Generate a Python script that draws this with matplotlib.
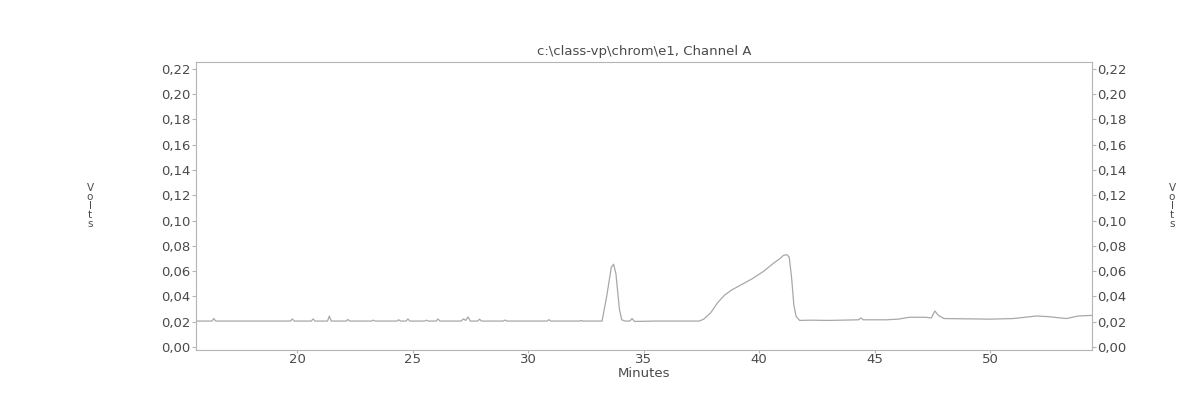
import matplotlib
matplotlib.use("Agg")
import matplotlib.pyplot as plt
from matplotlib.ticker import FuncFormatter, MultipleLocator

# chromatogram trace, Channel A (minutes, volts)
minutes = [15.63, 16.32, 16.4, 16.48, 19.72, 19.8, 19.88, 20.62, 20.7, 20.78,
           21.32, 21.4, 21.48, 22.12, 22.2, 22.28, 23.22, 23.3, 23.38,
           24.32, 24.4, 24.48, 24.72, 24.8, 24.88, 25.52, 25.6, 25.68,
           26.02, 26.1, 26.18, 27.1, 27.2, 27.3, 27.4, 27.5, 27.82, 27.9, 27.98,
           28.92, 29.0, 29.08, 30.82, 30.9, 30.98, 32.22, 32.3, 32.38,
           33.2, 33.4, 33.6, 33.7, 33.8, 33.95, 34.05, 34.2, 34.4, 34.5, 34.6,
           35.5, 37.4, 37.6, 37.9, 38.2, 38.5, 38.8, 39.2, 39.7, 40.2, 40.6,
           40.9, 41.05, 41.2, 41.3, 41.4, 41.5, 41.6, 41.75, 42.2, 43.0,
           44.3, 44.4, 44.5, 45.5, 46.0, 46.5, 47.2, 47.45, 47.6, 47.75, 48.0,
           50.0, 51.0, 52.0, 52.5, 53.3, 53.8, 54.4]
volts = [0.0205, 0.0205, 0.0225, 0.0205, 0.0205, 0.0222, 0.0205, 0.0205, 0.0222, 0.0205,
         0.0205, 0.0245, 0.0205, 0.0205, 0.0217, 0.0205, 0.0205, 0.0212, 0.0205,
         0.0205, 0.0215, 0.0205, 0.0205, 0.0222, 0.0205, 0.0205, 0.0212, 0.0205,
         0.0205, 0.0222, 0.0205, 0.0205, 0.0222, 0.0210, 0.0238, 0.0205, 0.0205, 0.0220, 0.0205,
         0.0205, 0.0213, 0.0205, 0.0205, 0.0216, 0.0205, 0.0205, 0.0209, 0.0205,
         0.0205, 0.0400, 0.0630, 0.0655, 0.0580, 0.0300, 0.0215, 0.0205, 0.0205, 0.0225, 0.0202,
         0.0205, 0.0205, 0.0220, 0.0270, 0.0350, 0.0410, 0.0450, 0.0490, 0.0540, 0.0600, 0.0660,
         0.0700, 0.0725, 0.0730, 0.0710, 0.0550, 0.0330, 0.0240, 0.0210, 0.0212, 0.0210,
         0.0215, 0.0230, 0.0215, 0.0215, 0.0220, 0.0235, 0.0235, 0.0230, 0.0285, 0.0250, 0.0225,
         0.0220, 0.0225, 0.0245, 0.0240, 0.0225, 0.0245, 0.0250]

x_ticks = [20, 25, 30, 35, 40, 45, 50]
title = r"c:\class-vp\chrom\e1, Channel A"

plt.rcParams["font.family"] = ["DejaVu Sans"]
text_col = "#4a4a4a"
frame_col = "#b5b5b5"
fs = 9.5

fig = plt.figure(figsize=(11.79, 4.05), dpi=100)
ax = fig.add_axes([196 / 1179, 1 - 350 / 405, (1092 - 196) / 1179, (350 - 62) / 405])

ax.plot(minutes, volts, color="#a8a8a8", lw=0.9)

ax.set_xlim(15.63, 54.4)
ax.set_ylim(-0.0024, 0.2255)
ax.set_xticks(x_ticks)
ax.yaxis.set_major_locator(MultipleLocator(0.02))
ax.yaxis.set_major_formatter(FuncFormatter(lambda v, p: f"{v:.2f}".replace(".", ",")))

for s in ax.spines.values():
    s.set_color(frame_col)
    s.set_linewidth(0.8)
ax.tick_params(axis="both", colors=frame_col, labelcolor=text_col, labelsize=fs,
               length=3, width=0.8, pad=1)
ax.tick_params(axis="y", right=True, labelright=True)
ax.tick_params(axis="x", length=2, pad=0)

ax.set_title(title, fontsize=fs, color=text_col, pad=5)
ax.set_xlabel("Minutes", fontsize=fs, color=text_col, labelpad=1)

# stacked axis captions on both sides
for xc in (90, 1172):
    fig.text(xc / 1179, 1 - 206 / 405, "V\no\nl\nt\ns", ha="center", va="center",
             fontsize=7.5, color=text_col, linespacing=0.85)

fig.savefig("out.png", dpi=100, facecolor="white")
